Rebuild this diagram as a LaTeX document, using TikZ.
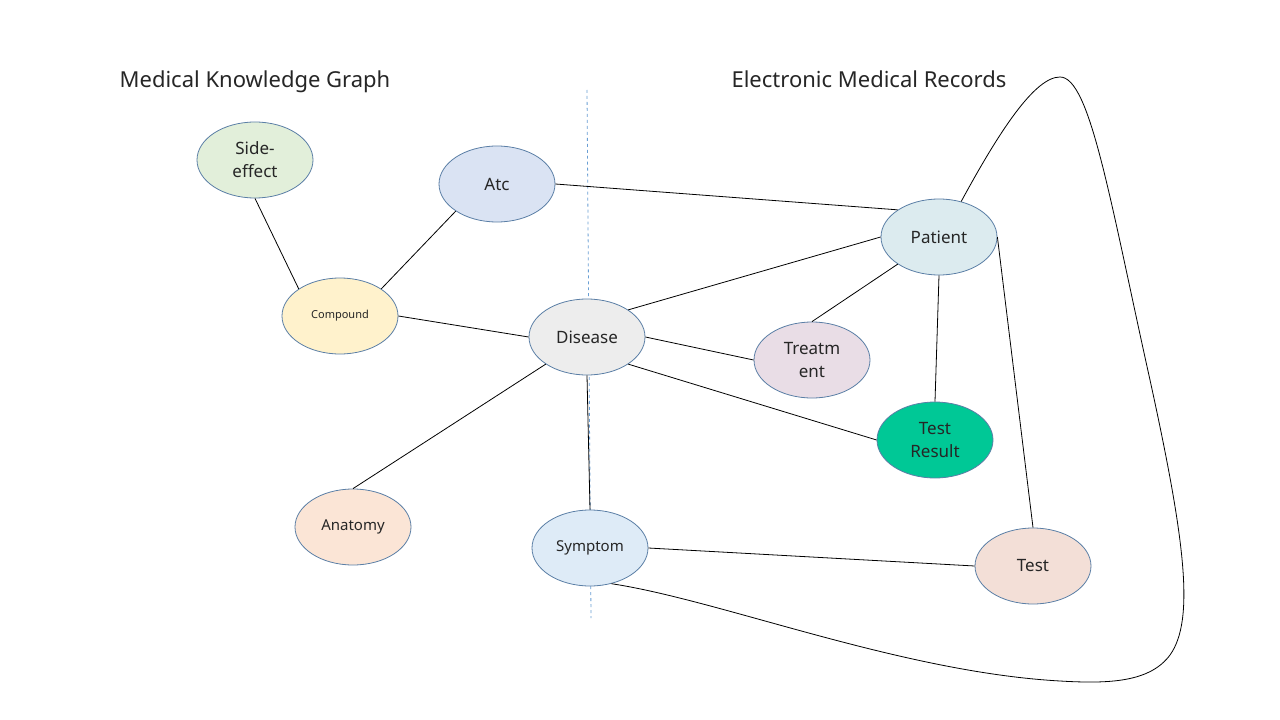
\documentclass[tikz,border=0pt]{standalone}
\usepackage{fontspec}
\setmainfont{Noto Sans}
\usepackage{tikz}
\usetikzlibrary{shapes.geometric}
\usetikzlibrary{positioning}
\definecolor{rimblue}{HTML}{5B7FA6}
\definecolor{splitblue}{HTML}{6A9FD4}
\definecolor{inkgray}{HTML}{262626}
\definecolor{cside}{HTML}{E2EFDA}
\definecolor{catc}{HTML}{DAE3F3}
\definecolor{ccomp}{HTML}{FFF2CC}
\definecolor{cdis}{HTML}{EDEDED}
\definecolor{cpat}{HTML}{DCEBEF}
\definecolor{ctreat}{HTML}{E9DDE6}
\definecolor{cres}{HTML}{00C896}
\definecolor{canat}{HTML}{FBE5D6}
\definecolor{csym}{HTML}{DEEBF7}
\definecolor{ctest}{HTML}{F3DFD7}
\tikzset{ent/.style = {draw = rimblue, line width = 0.8bp, shape = ellipse, inner sep = 0,
    minimum width = 116bp, minimum height = 76bp, align = center, text = inkgray,
    font = \fontsize{17bp}{23bp}\selectfont}}
\tikzset{link/.style = {draw = black, line width = 0.8bp}}
\tikzset{headline/.style = {text = inkgray, anchor = base, font = \fontsize{22bp}{26bp}\selectfont}}

\begin{document}
\begin{tikzpicture}[x = 1bp, y = -1bp]
    \useasboundingbox (0, 0) rectangle (1280, 720);
    \fill [white] (0, 0) rectangle (1280, 720);

    \node [headline] (kgtitle) at (255, 88) {Medical Knowledge Graph};
    \node [headline] (emrtitle) at (869, 88) {Electronic Medical Records};

    \coordinate (splittop) at (587, 90);
    \coordinate (splitbot) at (591, 618);
    \draw [splitblue, dashed, line width = 0.8bp] (splittop) -- (splitbot);

    \node [ent, fill = cside] (sideeffect) at (255, 160) {Side-\\effect};
    \node [ent, fill = catc] (atc) at (497, 184) {Atc};
    \node [ent, fill = ccomp, font = \fontsize{11bp}{13bp}\selectfont] (compound) at (340, 316) {Compound};
    \node [ent, fill = cdis] (disease) at (587, 337) {Disease};
    \node [ent, fill = cpat] (patient) at (939, 237) {Patient};
    \node [ent, fill = ctreat] (treatment) at (812, 360) {Treatm\\ent};
    \node [ent, fill = cres] (testresult) at (935, 440) {Test\\Result};
    \node [ent, fill = canat, font = \fontsize{15bp}{18bp}\selectfont] (anatomy) at (353, 527) {Anatomy};
    \node [ent, fill = csym, font = \fontsize{15bp}{18bp}\selectfont] (symptom) at (590, 548) {Symptom};
    \node [ent, fill = ctest] (test) at (1033, 566) {Test};

    \draw [link] (sideeffect.south) -- (compound.north west);
    \draw [link] (compound.north east) -- (atc.south west);
    \draw [link] (compound.east) -- (disease.west);
    \draw [link] (atc.east) -- (patient.north west);
    \draw [link] (disease.north east) -- (patient.west);
    \draw [link] (disease.east) -- (treatment.west);
    \draw [link] (disease.south east) -- (testresult.west);
    \draw [link] (disease.south west) -- (anatomy.north);
    \draw [link] (disease.south) -- (symptom.north);
    \draw [link] (patient.south west) -- (treatment.north);
    \draw [link] (patient.south) -- (testresult.north);
    \draw [link] (patient.east) -- (test.north);
    \draw [link] (symptom.east) -- (test.west);

    % long loop from Patient round the right side back to Symptom
    \draw [link] (patient.58) .. controls (1000, 130) and (1035, 77) .. (1060, 77)
        .. controls (1090, 77) and (1110, 200) .. (1150, 380)
        .. controls (1185, 540) and (1195, 620) .. (1170, 655)
        .. controls (1150, 682) and (1110, 684) .. (1060, 681)
        .. controls (900, 672) and (720, 600) .. (symptom.-59);
\end{tikzpicture}
\end{document}
